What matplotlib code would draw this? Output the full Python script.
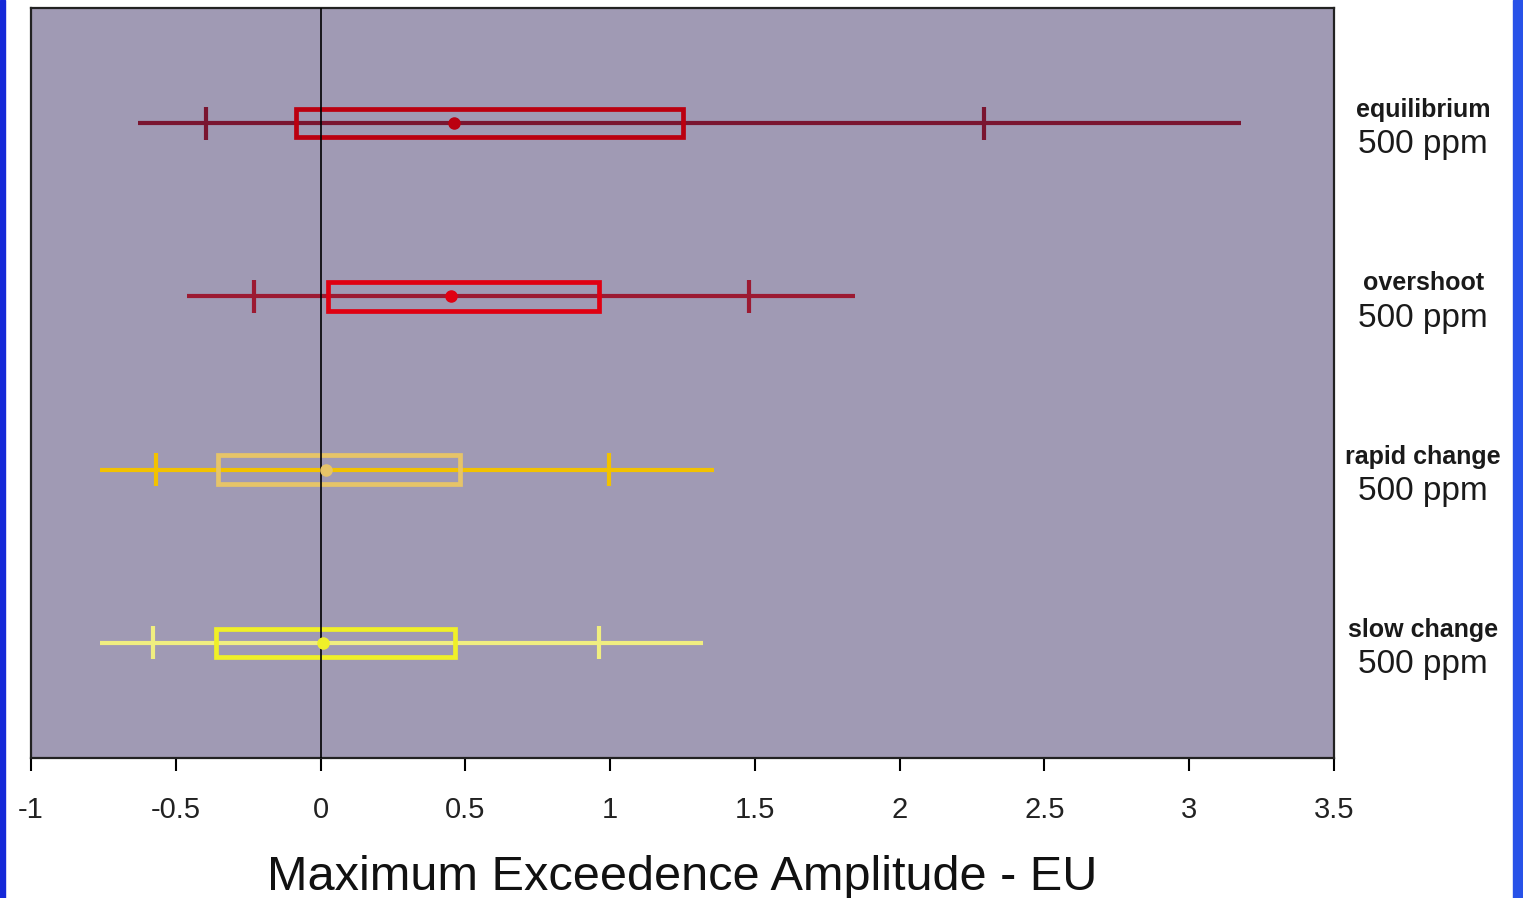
import matplotlib
matplotlib.use("Agg")
import matplotlib.pyplot as plt
from matplotlib.patches import Rectangle

# scenarios from top to bottom
names = ["equilibrium", "overshoot", "rapid change", "slow change"]
conc = ["500 ppm", "500 ppm", "500 ppm", "500 ppm"]
lo = [-0.63, -0.46, -0.76, -0.76]      # whisker ends
p10 = [-0.395, -0.23, -0.57, -0.58]    # tick marks
q1 = [-0.085, 0.025, -0.355, -0.36]    # box
mean = [0.46, 0.45, 0.02, 0.01]
q3 = [1.25, 0.96, 0.48, 0.465]
p90 = [2.29, 1.48, 0.995, 0.96]
hi = [3.18, 1.845, 1.36, 1.32]

whisker_col = ["#7a1530", "#9c1a32", "#f2c200", "#f0ee80"]
box_col = ["#bb0010", "#e00012", "#e6c468", "#f0f028"]
ypos = [4, 3, 2, 1]

fig = plt.figure(figsize=(15.23, 8.98), dpi=100)
fig.patch.set_facecolor("white")
ax = fig.add_axes([31 / 1523, 1 - 758 / 898, 1303 / 1523, 750 / 898])
ax.set_facecolor("#a09ab4")

box_h = 0.165
tick_h = 0.19
for i, y in enumerate(ypos):
    ax.plot([lo[i], hi[i]], [y, y], color=whisker_col[i], lw=3.0,
            solid_capstyle="butt", zorder=2)
    for v in (p10[i], p90[i]):
        ax.plot([v, v], [y - tick_h / 2, y + tick_h / 2], color=whisker_col[i],
                lw=3.0, solid_capstyle="butt", zorder=2)
    ax.add_patch(Rectangle((q1[i], y - box_h / 2), q3[i] - q1[i], box_h,
                           fill=False, edgecolor=box_col[i], lw=3.4, zorder=3))
    ax.plot([mean[i]], [y], "o", color=box_col[i], ms=8, zorder=5)
    ax.text(1.0685, y + 0.075, names[i], transform=ax.get_yaxis_transform(),
            ha="center", va="center", fontsize=18, fontweight="bold",
            family=["Liberation Sans", "DejaVu Sans"], color="#1a1a1a")
    ax.text(1.0685, y - 0.125, conc[i], transform=ax.get_yaxis_transform(),
            ha="center", va="center", fontsize=24,
            family=["Liberation Sans", "DejaVu Sans"], color="#1a1a1a")

ax.axvline(0, color="black", lw=1.2, zorder=4)

ax.set_xlim(-1, 3.5)
ax.set_ylim(0.335, 4.665)
ax.set_xticks([-1, -0.5, 0, 0.5, 1, 1.5, 2, 2.5, 3, 3.5])
ax.set_xticklabels(["-1", "-0.5", "0", "0.5", "1", "1.5", "2", "2.5", "3", "3.5"],
                   family=["Liberation Sans", "DejaVu Sans"],
                   fontsize=21, color="#222222")
ax.tick_params(axis="x", direction="out", length=9, width=1.5, pad=18)
ax.set_yticks([])
for s in ax.spines.values():
    s.set_linewidth(1.6)
    s.set_color("#222222")

ax.set_xlabel("Maximum Exceedence Amplitude - EU", fontsize=35,
              family=["Liberation Sans", "DejaVu Sans"], labelpad=23, color="#111111")

# blue slide border on both sides
fig.add_artist(Rectangle((0, 0), 5 / 1523, 1, transform=fig.transFigure,
                         color="#1428d8", zorder=0))
fig.add_artist(Rectangle((1513 / 1523, 0), 10 / 1523, 1, transform=fig.transFigure,
                         color="#2852e8", zorder=0))

fig.savefig("out.png", dpi=100)
